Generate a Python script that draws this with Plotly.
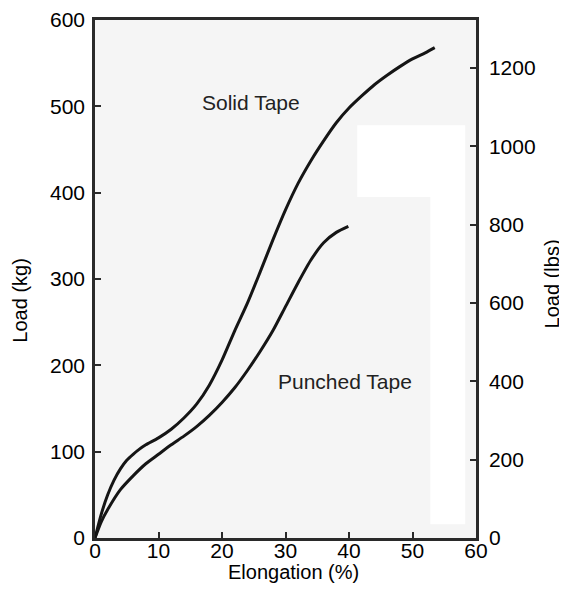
import plotly.graph_objects as go

# Solid tape curve (elongation %, load kg)
solid_x = [0, 1, 2, 3, 4, 5, 6, 7, 8, 10, 12, 14, 16, 18, 20, 22, 24, 26, 28, 30, 32, 34,
           36, 38, 40, 42, 44, 46, 48, 50, 52, 53.5]
solid_y = [0, 28, 50, 67, 80, 90, 97, 103, 108, 116, 126, 139, 155, 177, 206, 240, 272, 308,
           345, 380, 411, 437, 460, 481, 498, 512, 525, 536, 546, 555, 562, 568]

# Punched tape curve
punched_x = [0, 1, 2, 4, 6, 8, 10, 12, 14, 16, 18, 20, 22, 24, 26, 28, 30, 32, 34, 36, 38, 39.9]
punched_y = [0, 19, 33, 56, 72, 86, 97, 108, 118, 129, 142, 157, 174, 194, 216, 240, 268,
             296, 322, 342, 354, 361]

x_ticks = [0, 10, 20, 30, 40, 50, 60]
kg_ticks = [0, 100, 200, 300, 400, 500, 600]
lbs_ticks = [0, 200, 400, 600, 800, 1000, 1200]
KG_TO_LBS = 2.20462

FONT = "Liberation Sans, Arial, sans-serif"
INK = "#151515"

fig = go.Figure()
fig.add_trace(go.Scatter(x=solid_x, y=solid_y, mode="lines", name="Solid Tape",
                         line=dict(color=INK, width=3, shape="spline", smoothing=0.7),
                         showlegend=False, hoverinfo="skip"))
fig.add_trace(go.Scatter(x=punched_x, y=punched_y, mode="lines", name="Punched Tape",
                         line=dict(color=INK, width=3, shape="spline", smoothing=0.7),
                         showlegend=False, hoverinfo="skip"))
# invisible trace to activate right axis
fig.add_trace(go.Scatter(x=[0], y=[0], yaxis="y2", mode="markers",
                         marker=dict(opacity=0), showlegend=False, hoverinfo="skip"))

# scan artefact: white blank patch in the plot area
fig.add_shape(type="rect", xref="x", yref="y", x0=41.3, x1=58.3, y0=395, y1=478,
              fillcolor="white", line=dict(width=0), layer="below")
fig.add_shape(type="rect", xref="x", yref="y", x0=52.8, x1=58.3, y0=16, y1=395,
              fillcolor="white", line=dict(width=0), layer="below")

fig.add_annotation(x=24.6, y=505, text="Solid Tape", showarrow=False,
                   font=dict(family=FONT, size=21, color="#222"))
fig.add_annotation(x=39.3, y=181, text="Punched Tape", showarrow=False,
                   font=dict(family=FONT, size=21, color="#222"))

# axis titles as annotations
TITLE_FONT = dict(family=FONT, size=20, color="black")
fig.add_annotation(xref="paper", yref="paper", x=0.52, y=-0.066, text="Elongation (%)",
                   showarrow=False, font=TITLE_FONT, xanchor="center", yanchor="middle")
fig.add_annotation(xref="paper", yref="paper", x=-0.197, y=0.46, text="Load (kg)",
                   showarrow=False, font=TITLE_FONT, textangle=-90,
                   xanchor="center", yanchor="middle")
fig.add_annotation(xref="paper", yref="paper", x=1.2, y=0.49, text="Load (lbs)",
                   showarrow=False, font=TITLE_FONT, textangle=-90,
                   xanchor="center", yanchor="middle")

axis_common = dict(showline=True, linecolor="#2a2a2a", linewidth=2.5, ticks="inside",
                   ticklen=6, tickwidth=2, tickcolor="#2a2a2a", showgrid=False, zeroline=False,
                   automargin=False, ticklabeloverflow="allow",
                   tickfont=dict(family=FONT, size=21, color="black"))

# page body has an 8px margin: figure is offset by (8, 8) in the window
fig.update_layout(
    width=559, height=582,
    margin=dict(l=87, r=91, t=12, b=52),
    paper_bgcolor="white", plot_bgcolor="#f5f5f5",
    xaxis=dict(range=[0, 60], tickvals=x_ticks, mirror=True, ticklabelstandoff=-8,
               **axis_common),
    yaxis=dict(range=[0, 600], tickvals=kg_ticks, ticklabelstandoff=3, **axis_common),
    yaxis2=dict(range=[0, 600 * KG_TO_LBS], tickvals=lbs_ticks, overlaying="y", side="right",
                ticklabelstandoff=6, **axis_common),
)

fig.write_html("out.html")
